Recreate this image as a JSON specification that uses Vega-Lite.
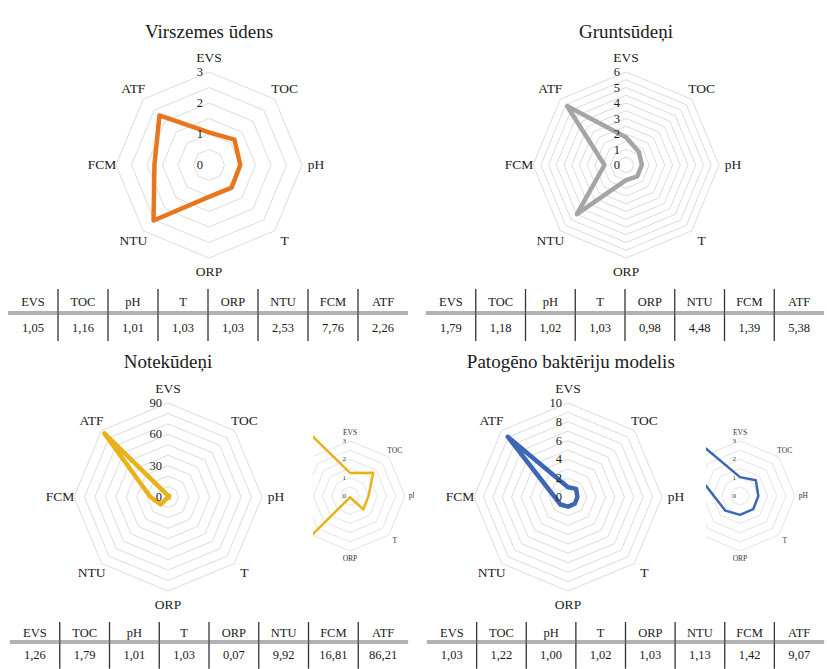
{
"$schema":"https://vega.github.io/schema/vega-lite/v6.json",
"padding":0,
"autosize":{"type":"pad"},
"background":"white",
"spacing":0,
"bounds":"full",
"resolve":{"scale":{"size":"independent"}},
"datasets":{
"vir":[{"axis":"EVS","value":1.05},{"axis":"TOC","value":1.16},{"axis":"pH","value":1.01},{"axis":"T","value":1.03},{"axis":"ORP","value":1.03},{"axis":"NTU","value":2.53},{"axis":"FCM","value":7.76},{"axis":"ATF","value":2.26}],
"vir_plot":[{"axis":"EVS","value":1.05},{"axis":"TOC","value":1.16},{"axis":"pH","value":1.01},{"axis":"T","value":1.03},{"axis":"ORP","value":1.03},{"axis":"NTU","value":2.53},{"axis":"FCM","value":1.76},{"axis":"ATF","value":2.26}],
"gru":[{"axis":"EVS","value":1.79},{"axis":"TOC","value":1.18},{"axis":"pH","value":1.02},{"axis":"T","value":1.03},{"axis":"ORP","value":0.98},{"axis":"NTU","value":4.48},{"axis":"FCM","value":1.39},{"axis":"ATF","value":5.38}],
"note":[{"axis":"EVS","value":1.26},{"axis":"TOC","value":1.79},{"axis":"pH","value":1.01},{"axis":"T","value":1.03},{"axis":"ORP","value":0.07},{"axis":"NTU","value":9.92},{"axis":"FCM","value":16.81},{"axis":"ATF","value":86.21}],
"pat":[{"axis":"EVS","value":1.03},{"axis":"TOC","value":1.22},{"axis":"pH","value":1.00},{"axis":"T","value":1.02},{"axis":"ORP","value":1.03},{"axis":"NTU","value":1.13},{"axis":"FCM","value":1.42},{"axis":"ATF","value":9.07}],
"rings3":[{"level":0.5},{"level":1},{"level":1.5},{"level":2},{"level":2.5},{"level":3}],
"rings6":[{"level":0.5},{"level":1},{"level":1.5},{"level":2},{"level":2.5},{"level":3},{"level":3.5},{"level":4},{"level":4.5},{"level":5},{"level":5.5},{"level":6}],
"rings90":[{"level":10},{"level":20},{"level":30},{"level":40},{"level":50},{"level":60},{"level":70},{"level":80},{"level":90}],
"rings10":[{"level":1},{"level":2},{"level":3},{"level":4},{"level":5},{"level":6},{"level":7},{"level":8},{"level":9},{"level":10}],
"ticks3":[{"tick":0},{"tick":1},{"tick":2},{"tick":3}],
"ticks6":[{"tick":0},{"tick":1},{"tick":2},{"tick":3},{"tick":4},{"tick":5},{"tick":6}],
"ticks90":[{"tick":0},{"tick":30},{"tick":60},{"tick":90}],
"ticks10":[{"tick":0},{"tick":2},{"tick":4},{"tick":6},{"tick":8},{"tick":10}]
},
"vconcat":[
{"hconcat":[
{"width":414,"height":284,"layer":[
{"data":{"name":"rings3"},"mark":{"type":"point","shape":"M0,-1L0.7071,-0.7071L1,0L0.7071,0.7071L0,1L-0.7071,0.7071L-1,0L-0.7071,-0.7071Z","filled":false,"stroke":"#dcdcdc","strokeWidth":1,"opacity":1},
"encoding":{"x":{"datum":0,"type":"quantitative","scale":{"domain":[-6.7419,6.6129],"nice":false,"zero":false}},"y":{"datum":0,"type":"quantitative","scale":{"domain":[-3.8387,5.3226],"nice":false,"zero":false}},"size":{"field":"level","type":"quantitative","scale":{"type":"pow","exponent":2,"domain":[0,3],"range":[0,34596]},"legend":null}}},
{"data":{"name":"vir_plot"},"transform":[{"window":[{"op":"row_number","as":"idx"}]},{"calculate":"PI/2-(datum.idx-1)*PI/4","as":"ang"},{"calculate":"datum.value*cos(datum.ang)","as":"px"},{"calculate":"datum.value*sin(datum.ang)","as":"py"}],
"mark":{"type":"line","interpolate":"linear-closed","color":"#E8761F","strokeWidth":4.5,"strokeJoin":"round"},
"encoding":{"x":{"field":"px","type":"quantitative","scale":{"domain":[-6.7419,6.6129],"nice":false,"zero":false}},"y":{"field":"py","type":"quantitative","scale":{"domain":[-3.8387,5.3226],"nice":false,"zero":false}},"order":{"field":"idx","type":"quantitative"}}},
{"data":{"name":"vir"},"transform":[{"window":[{"op":"row_number","as":"idx"}]},{"calculate":"PI/2-(datum.idx-1)*PI/4","as":"ang"},{"calculate":"3.45*cos(datum.ang)","as":"lx"},{"calculate":"3.45*sin(datum.ang)","as":"ly"}],
"mark":{"type":"text","font":"Liberation Serif","color":"#1a1a1a","fontSize":13.5,"baseline":"middle"},
"encoding":{"x":{"field":"lx","type":"quantitative","scale":{"domain":[-6.7419,6.6129],"nice":false,"zero":false}},"y":{"field":"ly","type":"quantitative","scale":{"domain":[-3.8387,5.3226],"nice":false,"zero":false}},"text":{"field":"axis"}}},
{"data":{"name":"ticks3"},"mark":{"type":"text","font":"Liberation Serif","color":"#1a1a1a","fontSize":12.5,"align":"right","baseline":"middle","dx":-6},
"encoding":{"x":{"datum":0,"type":"quantitative","scale":{"domain":[-6.7419,6.6129],"nice":false,"zero":false}},"y":{"field":"tick","type":"quantitative","scale":{"domain":[-3.8387,5.3226],"nice":false,"zero":false}},"text":{"field":"tick","type":"quantitative"}}},
{"data":{"values":[{"t":"Virszemes ūdens"}]},"mark":{"type":"text","font":"Liberation Serif","color":"#1a1a1a","fontSize":19,"baseline":"middle"},
"encoding":{"x":{"datum":0,"type":"quantitative","scale":{"domain":[-6.7419,6.6129],"nice":false,"zero":false}},"y":{"datum":4.29,"type":"quantitative","scale":{"domain":[-3.8387,5.3226],"nice":false,"zero":false}},"text":{"field":"t"}}}
]},
{"width":413,"height":284,"layer":[
{"data":{"name":"rings6"},"mark":{"type":"point","shape":"M0,-1L0.7071,-0.7071L1,0L0.7071,0.7071L0,1L-0.7071,0.7071L-1,0L-0.7071,-0.7071Z","filled":false,"stroke":"#dcdcdc","strokeWidth":1,"opacity":1},
"encoding":{"x":{"datum":0,"type":"quantitative","scale":{"domain":[-13.6774,12.9677],"nice":false,"zero":false}},"y":{"datum":0,"type":"quantitative","scale":{"domain":[-7.6774,10.6452],"nice":false,"zero":false}},"size":{"field":"level","type":"quantitative","scale":{"type":"pow","exponent":2,"domain":[0,6],"range":[0,34596]},"legend":null}}},
{"data":{"name":"gru"},"transform":[{"window":[{"op":"row_number","as":"idx"}]},{"calculate":"PI/2-(datum.idx-1)*PI/4","as":"ang"},{"calculate":"datum.value*cos(datum.ang)","as":"px"},{"calculate":"datum.value*sin(datum.ang)","as":"py"}],
"mark":{"type":"line","interpolate":"linear-closed","color":"#A5A5A5","strokeWidth":4.5,"strokeJoin":"round"},
"encoding":{"x":{"field":"px","type":"quantitative","scale":{"domain":[-13.6774,12.9677],"nice":false,"zero":false}},"y":{"field":"py","type":"quantitative","scale":{"domain":[-7.6774,10.6452],"nice":false,"zero":false}},"order":{"field":"idx","type":"quantitative"}}},
{"data":{"name":"gru"},"transform":[{"window":[{"op":"row_number","as":"idx"}]},{"calculate":"PI/2-(datum.idx-1)*PI/4","as":"ang"},{"calculate":"6.9*cos(datum.ang)","as":"lx"},{"calculate":"6.9*sin(datum.ang)","as":"ly"}],
"mark":{"type":"text","font":"Liberation Serif","color":"#1a1a1a","fontSize":13.5,"baseline":"middle"},
"encoding":{"x":{"field":"lx","type":"quantitative","scale":{"domain":[-13.6774,12.9677],"nice":false,"zero":false}},"y":{"field":"ly","type":"quantitative","scale":{"domain":[-7.6774,10.6452],"nice":false,"zero":false}},"text":{"field":"axis"}}},
{"data":{"name":"ticks6"},"mark":{"type":"text","font":"Liberation Serif","color":"#1a1a1a","fontSize":12.5,"align":"right","baseline":"middle","dx":-6},
"encoding":{"x":{"datum":0,"type":"quantitative","scale":{"domain":[-13.6774,12.9677],"nice":false,"zero":false}},"y":{"field":"tick","type":"quantitative","scale":{"domain":[-7.6774,10.6452],"nice":false,"zero":false}},"text":{"field":"tick","type":"quantitative"}}},
{"data":{"values":[{"t":"Gruntsūdeņi"}]},"mark":{"type":"text","font":"Liberation Serif","color":"#1a1a1a","fontSize":19,"baseline":"middle"},
"encoding":{"x":{"datum":0,"type":"quantitative","scale":{"domain":[-13.6774,12.9677],"nice":false,"zero":false}},"y":{"datum":8.58,"type":"quantitative","scale":{"domain":[-7.6774,10.6452],"nice":false,"zero":false}},"text":{"field":"t"}}}
]}
],"spacing":0,"bounds":"flush","resolve":{"scale":{"size":"independent"}}},
{"hconcat":[
{"width":414,"height":60,"data":{"name":"vir"},"layer":[
{"mark":{"type":"text","font":"Liberation Serif","color":"#1a1a1a","fontSize":12.5,"baseline":"middle"},"encoding":{"x":{"field":"axis","type":"nominal","scale":{"domain":["EVS","TOC","pH","T","ORP","NTU","FCM","ATF"],"paddingInner":0,"paddingOuter":0.14,"align":0.5714}},"y":{"datum":1,"type":"quantitative","scale":{"domain":[-0.615,1.692],"nice":false,"zero":false}},"text":{"field":"axis"}}},
{"mark":{"type":"text","font":"Liberation Serif","color":"#1a1a1a","fontSize":12.5,"baseline":"middle"},"encoding":{"x":{"field":"axis","type":"nominal","scale":{"domain":["EVS","TOC","pH","T","ORP","NTU","FCM","ATF"],"paddingInner":0,"paddingOuter":0.14,"align":0.5714}},"y":{"datum":0,"type":"quantitative","scale":{"domain":[-0.615,1.692],"nice":false,"zero":false}},"text":{"field":"value","type":"quantitative","format":".2f"}}},
{"transform":[{"filter":"datum.axis !== 'EVS'"}],"mark":{"type":"rule","color":"#333333","strokeWidth":1.3},"encoding":{"x":{"field":"axis","type":"nominal","bandPosition":0,"scale":{"domain":["EVS","TOC","pH","T","ORP","NTU","FCM","ATF"],"paddingInner":0,"paddingOuter":0.14,"align":0.5714}},"y":{"datum":-0.5,"type":"quantitative","scale":{"domain":[-0.615,1.692],"nice":false,"zero":false}},"y2":{"datum":1.5}}},
{"mark":{"type":"tick","orient":"horizontal","size":50,"thickness":1,"color":"#666666","opacity":1},"encoding":{"x":{"field":"axis","type":"nominal","scale":{"domain":["EVS","TOC","pH","T","ORP","NTU","FCM","ATF"],"paddingInner":0,"paddingOuter":0.14,"align":0.5714}},"y":{"datum":0.54,"type":"quantitative","scale":{"domain":[-0.615,1.692],"nice":false,"zero":false}}}},
{"mark":{"type":"tick","orient":"horizontal","size":50,"thickness":1,"color":"#666666","opacity":1},"encoding":{"x":{"field":"axis","type":"nominal","scale":{"domain":["EVS","TOC","pH","T","ORP","NTU","FCM","ATF"],"paddingInner":0,"paddingOuter":0.14,"align":0.5714}},"y":{"datum":0.62,"type":"quantitative","scale":{"domain":[-0.615,1.692],"nice":false,"zero":false}}}}
]},
{"width":413,"height":60,"data":{"name":"gru"},"layer":[
{"mark":{"type":"text","font":"Liberation Serif","color":"#1a1a1a","fontSize":12.5,"baseline":"middle"},"encoding":{"x":{"field":"axis","type":"nominal","scale":{"domain":["EVS","TOC","pH","T","ORP","NTU","FCM","ATF"],"paddingInner":0,"paddingOuter":0.1508,"align":0.8}},"y":{"datum":1,"type":"quantitative","scale":{"domain":[-0.615,1.692],"nice":false,"zero":false}},"text":{"field":"axis"}}},
{"mark":{"type":"text","font":"Liberation Serif","color":"#1a1a1a","fontSize":12.5,"baseline":"middle"},"encoding":{"x":{"field":"axis","type":"nominal","scale":{"domain":["EVS","TOC","pH","T","ORP","NTU","FCM","ATF"],"paddingInner":0,"paddingOuter":0.1508,"align":0.8}},"y":{"datum":0,"type":"quantitative","scale":{"domain":[-0.615,1.692],"nice":false,"zero":false}},"text":{"field":"value","type":"quantitative","format":".2f"}}},
{"transform":[{"filter":"datum.axis !== 'EVS'"}],"mark":{"type":"rule","color":"#333333","strokeWidth":1.3},"encoding":{"x":{"field":"axis","type":"nominal","bandPosition":0,"scale":{"domain":["EVS","TOC","pH","T","ORP","NTU","FCM","ATF"],"paddingInner":0,"paddingOuter":0.1508,"align":0.8}},"y":{"datum":-0.5,"type":"quantitative","scale":{"domain":[-0.615,1.692],"nice":false,"zero":false}},"y2":{"datum":1.5}}},
{"mark":{"type":"tick","orient":"horizontal","size":50,"thickness":1,"color":"#666666","opacity":1},"encoding":{"x":{"field":"axis","type":"nominal","scale":{"domain":["EVS","TOC","pH","T","ORP","NTU","FCM","ATF"],"paddingInner":0,"paddingOuter":0.1508,"align":0.8}},"y":{"datum":0.54,"type":"quantitative","scale":{"domain":[-0.615,1.692],"nice":false,"zero":false}}}},
{"mark":{"type":"tick","orient":"horizontal","size":50,"thickness":1,"color":"#666666","opacity":1},"encoding":{"x":{"field":"axis","type":"nominal","scale":{"domain":["EVS","TOC","pH","T","ORP","NTU","FCM","ATF"],"paddingInner":0,"paddingOuter":0.1508,"align":0.8}},"y":{"datum":0.62,"type":"quantitative","scale":{"domain":[-0.615,1.692],"nice":false,"zero":false}}}}
]}
],"spacing":0,"bounds":"flush"},
{"hconcat":[
{"width":313,"height":270,"layer":[
{"data":{"name":"rings90"},"mark":{"type":"point","shape":"M0,-1L0.7071,-0.7071L1,0L0.7071,0.7071L0,1L-0.7071,0.7071L-1,0L-0.7071,-0.7071Z","filled":false,"stroke":"#dcdcdc","strokeWidth":1,"opacity":1},
"encoding":{"x":{"datum":0,"type":"quantitative","scale":{"domain":[-160.851,138.830],"nice":false,"zero":false}},"y":{"datum":0,"type":"quantitative","scale":{"domain":[-112.02,146.489],"nice":false,"zero":false}},"size":{"field":"level","type":"quantitative","scale":{"type":"pow","exponent":2,"domain":[0,90],"range":[0,35344]},"legend":null}}},
{"data":{"name":"note"},"transform":[{"window":[{"op":"row_number","as":"idx"}]},{"calculate":"PI/2-(datum.idx-1)*PI/4","as":"ang"},{"calculate":"datum.value*cos(datum.ang)","as":"px"},{"calculate":"datum.value*sin(datum.ang)","as":"py"}],
"mark":{"type":"line","interpolate":"linear-closed","color":"#E9B11A","strokeWidth":4.5,"strokeJoin":"round"},
"encoding":{"x":{"field":"px","type":"quantitative","scale":{"domain":[-160.851,138.830],"nice":false,"zero":false}},"y":{"field":"py","type":"quantitative","scale":{"domain":[-112.02,146.489],"nice":false,"zero":false}},"order":{"field":"idx","type":"quantitative"}}},
{"data":{"name":"note"},"transform":[{"window":[{"op":"row_number","as":"idx"}]},{"calculate":"PI/2-(datum.idx-1)*PI/4","as":"ang"},{"calculate":"103.5*cos(datum.ang)","as":"lx"},{"calculate":"103.5*sin(datum.ang)","as":"ly"}],
"mark":{"type":"text","font":"Liberation Serif","color":"#1a1a1a","fontSize":13.5,"baseline":"middle"},
"encoding":{"x":{"field":"lx","type":"quantitative","scale":{"domain":[-160.851,138.830],"nice":false,"zero":false}},"y":{"field":"ly","type":"quantitative","scale":{"domain":[-112.02,146.489],"nice":false,"zero":false}},"text":{"field":"axis"}}},
{"data":{"name":"ticks90"},"mark":{"type":"text","font":"Liberation Serif","color":"#1a1a1a","fontSize":12.5,"align":"right","baseline":"middle","dx":-6},
"encoding":{"x":{"datum":0,"type":"quantitative","scale":{"domain":[-160.851,138.830],"nice":false,"zero":false}},"y":{"field":"tick","type":"quantitative","scale":{"domain":[-112.02,146.489],"nice":false,"zero":false}},"text":{"field":"tick","type":"quantitative"}}},
{"data":{"values":[{"t":"Notekūdeņi"}]},"mark":{"type":"text","font":"Liberation Serif","color":"#1a1a1a","fontSize":19,"baseline":"middle"},
"encoding":{"x":{"datum":0,"type":"quantitative","scale":{"domain":[-160.851,138.830],"nice":false,"zero":false}},"y":{"datum":129.3,"type":"quantitative","scale":{"domain":[-112.02,146.489],"nice":false,"zero":false}},"text":{"field":"t"}}}
]},
{"width":101,"height":270,"layer":[
{"data":{"name":"rings3"},"mark":{"type":"point","clip":true,"shape":"M0,-1L0.7071,-0.7071L1,0L0.7071,0.7071L0,1L-0.7071,0.7071L-1,0L-0.7071,-0.7071Z","filled":false,"stroke":"#dddddd","strokeWidth":0.8,"opacity":1},
"encoding":{"x":{"datum":0,"type":"quantitative","scale":{"domain":[-2.0182,3.4909],"nice":false,"zero":false}},"y":{"datum":0,"type":"quantitative","scale":{"domain":[-6.4364,8.2909],"nice":false,"zero":false}},"size":{"field":"level","type":"quantitative","scale":{"type":"pow","exponent":2,"domain":[0,3],"range":[0,12100]},"legend":null}}},
{"data":{"name":"note"},"transform":[{"window":[{"op":"row_number","as":"idx"}]},{"calculate":"PI/2-(datum.idx-1)*PI/4","as":"ang"},{"calculate":"datum.value*cos(datum.ang)","as":"px"},{"calculate":"datum.value*sin(datum.ang)","as":"py"}],
"mark":{"type":"line","clip":true,"interpolate":"linear-closed","color":"#E9B11A","strokeWidth":2.5,"strokeJoin":"round"},
"encoding":{"x":{"field":"px","type":"quantitative","scale":{"domain":[-2.0182,3.4909],"nice":false,"zero":false}},"y":{"field":"py","type":"quantitative","scale":{"domain":[-6.4364,8.2909],"nice":false,"zero":false}},"order":{"field":"idx","type":"quantitative"}}},
{"data":{"name":"note"},"transform":[{"window":[{"op":"row_number","as":"idx"}]},{"calculate":"PI/2-(datum.idx-1)*PI/4","as":"ang"},{"calculate":"3.45*cos(datum.ang)","as":"lx"},{"calculate":"3.45*sin(datum.ang)","as":"ly"},{"filter":"datum.idx <= 5"}],
"mark":{"type":"text","clip":true,"font":"Liberation Serif","color":"#333333","fontSize":7.5,"baseline":"middle"},
"encoding":{"x":{"field":"lx","type":"quantitative","scale":{"domain":[-2.0182,3.4909],"nice":false,"zero":false}},"y":{"field":"ly","type":"quantitative","scale":{"domain":[-6.4364,8.2909],"nice":false,"zero":false}},"text":{"field":"axis"}}},
{"data":{"name":"ticks3"},"mark":{"type":"text","clip":true,"font":"Liberation Serif","color":"#333333","fontSize":7,"align":"right","baseline":"middle","dx":-4},
"encoding":{"x":{"datum":0,"type":"quantitative","scale":{"domain":[-2.0182,3.4909],"nice":false,"zero":false}},"y":{"field":"tick","type":"quantitative","scale":{"domain":[-6.4364,8.2909],"nice":false,"zero":false}},"text":{"field":"tick","type":"quantitative"}}}
]},
{"width":292,"height":270,"layer":[
{"data":{"name":"rings10"},"mark":{"type":"point","shape":"M0,-1L0.7071,-0.7071L1,0L0.7071,0.7071L0,1L-0.7071,0.7071L-1,0L-0.7071,-0.7071Z","filled":false,"stroke":"#dcdcdc","strokeWidth":1,"opacity":1},
"encoding":{"x":{"datum":0,"type":"quantitative","scale":{"domain":[-16.383,14.681],"nice":false,"zero":false}},"y":{"datum":0,"type":"quantitative","scale":{"domain":[-12.447,16.277],"nice":false,"zero":false}},"size":{"field":"level","type":"quantitative","scale":{"type":"pow","exponent":2,"domain":[0,10],"range":[0,35344]},"legend":null}}},
{"data":{"name":"pat"},"transform":[{"window":[{"op":"row_number","as":"idx"}]},{"calculate":"PI/2-(datum.idx-1)*PI/4","as":"ang"},{"calculate":"datum.value*cos(datum.ang)","as":"px"},{"calculate":"datum.value*sin(datum.ang)","as":"py"}],
"mark":{"type":"line","interpolate":"linear-closed","color":"#3D66B5","strokeWidth":4.5,"strokeJoin":"round"},
"encoding":{"x":{"field":"px","type":"quantitative","scale":{"domain":[-16.383,14.681],"nice":false,"zero":false}},"y":{"field":"py","type":"quantitative","scale":{"domain":[-12.447,16.277],"nice":false,"zero":false}},"order":{"field":"idx","type":"quantitative"}}},
{"data":{"name":"pat"},"transform":[{"window":[{"op":"row_number","as":"idx"}]},{"calculate":"PI/2-(datum.idx-1)*PI/4","as":"ang"},{"calculate":"11.5*cos(datum.ang)","as":"lx"},{"calculate":"11.5*sin(datum.ang)","as":"ly"}],
"mark":{"type":"text","font":"Liberation Serif","color":"#1a1a1a","fontSize":13.5,"baseline":"middle"},
"encoding":{"x":{"field":"lx","type":"quantitative","scale":{"domain":[-16.383,14.681],"nice":false,"zero":false}},"y":{"field":"ly","type":"quantitative","scale":{"domain":[-12.447,16.277],"nice":false,"zero":false}},"text":{"field":"axis"}}},
{"data":{"name":"ticks10"},"mark":{"type":"text","font":"Liberation Serif","color":"#1a1a1a","fontSize":12.5,"align":"right","baseline":"middle","dx":-6},
"encoding":{"x":{"datum":0,"type":"quantitative","scale":{"domain":[-16.383,14.681],"nice":false,"zero":false}},"y":{"field":"tick","type":"quantitative","scale":{"domain":[-12.447,16.277],"nice":false,"zero":false}},"text":{"field":"tick","type":"quantitative"}}},
{"data":{"values":[{"t":"Patogēno baktēriju modelis"}]},"mark":{"type":"text","font":"Liberation Serif","color":"#1a1a1a","fontSize":19,"baseline":"middle"},
"encoding":{"x":{"datum":0.3,"type":"quantitative","scale":{"domain":[-16.383,14.681],"nice":false,"zero":false}},"y":{"datum":14.36,"type":"quantitative","scale":{"domain":[-12.447,16.277],"nice":false,"zero":false}},"text":{"field":"t"}}}
]},
{"width":121,"height":270,"layer":[
{"data":{"name":"rings3"},"mark":{"type":"point","clip":true,"shape":"M0,-1L0.7071,-0.7071L1,0L0.7071,0.7071L0,1L-0.7071,0.7071L-1,0L-0.7071,-0.7071Z","filled":false,"stroke":"#dddddd","strokeWidth":0.8,"opacity":1},
"encoding":{"x":{"datum":0,"type":"quantitative","scale":{"domain":[-1.8545,4.7455],"nice":false,"zero":false}},"y":{"datum":0,"type":"quantitative","scale":{"domain":[-6.4364,8.2909],"nice":false,"zero":false}},"size":{"field":"level","type":"quantitative","scale":{"type":"pow","exponent":2,"domain":[0,3],"range":[0,12100]},"legend":null}}},
{"data":{"name":"pat"},"transform":[{"window":[{"op":"row_number","as":"idx"}]},{"calculate":"PI/2-(datum.idx-1)*PI/4","as":"ang"},{"calculate":"datum.value*cos(datum.ang)","as":"px"},{"calculate":"datum.value*sin(datum.ang)","as":"py"}],
"mark":{"type":"line","clip":true,"interpolate":"linear-closed","color":"#3D66B5","strokeWidth":2.5,"strokeJoin":"round"},
"encoding":{"x":{"field":"px","type":"quantitative","scale":{"domain":[-1.8545,4.7455],"nice":false,"zero":false}},"y":{"field":"py","type":"quantitative","scale":{"domain":[-6.4364,8.2909],"nice":false,"zero":false}},"order":{"field":"idx","type":"quantitative"}}},
{"data":{"name":"pat"},"transform":[{"window":[{"op":"row_number","as":"idx"}]},{"calculate":"PI/2-(datum.idx-1)*PI/4","as":"ang"},{"calculate":"3.45*cos(datum.ang)","as":"lx"},{"calculate":"3.45*sin(datum.ang)","as":"ly"},{"filter":"datum.idx <= 5"}],
"mark":{"type":"text","clip":true,"font":"Liberation Serif","color":"#333333","fontSize":7.5,"baseline":"middle"},
"encoding":{"x":{"field":"lx","type":"quantitative","scale":{"domain":[-1.8545,4.7455],"nice":false,"zero":false}},"y":{"field":"ly","type":"quantitative","scale":{"domain":[-6.4364,8.2909],"nice":false,"zero":false}},"text":{"field":"axis"}}},
{"data":{"name":"ticks3"},"mark":{"type":"text","clip":true,"font":"Liberation Serif","color":"#333333","fontSize":7,"align":"right","baseline":"middle","dx":-4},
"encoding":{"x":{"datum":0,"type":"quantitative","scale":{"domain":[-1.8545,4.7455],"nice":false,"zero":false}},"y":{"field":"tick","type":"quantitative","scale":{"domain":[-6.4364,8.2909],"nice":false,"zero":false}},"text":{"field":"tick","type":"quantitative"}}}
]}
],"spacing":0,"bounds":"flush","resolve":{"scale":{"size":"independent"}}},
{"hconcat":[
{"width":414,"height":55,"data":{"name":"note"},"layer":[
{"mark":{"type":"text","font":"Liberation Serif","color":"#1a1a1a","fontSize":12.5,"baseline":"middle"},"encoding":{"x":{"field":"axis","type":"nominal","scale":{"domain":["EVS","TOC","pH","T","ORP","NTU","FCM","ATF"],"paddingInner":0,"paddingOuter":0.1608,"align":0.625}},"y":{"datum":1,"type":"quantitative","scale":{"domain":[-0.636,1.8636],"nice":false,"zero":false}},"text":{"field":"axis"}}},
{"mark":{"type":"text","font":"Liberation Serif","color":"#1a1a1a","fontSize":12.5,"baseline":"middle"},"encoding":{"x":{"field":"axis","type":"nominal","scale":{"domain":["EVS","TOC","pH","T","ORP","NTU","FCM","ATF"],"paddingInner":0,"paddingOuter":0.1608,"align":0.625}},"y":{"datum":0,"type":"quantitative","scale":{"domain":[-0.636,1.8636],"nice":false,"zero":false}},"text":{"field":"value","type":"quantitative","format":".2f"}}},
{"transform":[{"filter":"datum.axis !== 'EVS'"}],"mark":{"type":"rule","color":"#333333","strokeWidth":1.3},"encoding":{"x":{"field":"axis","type":"nominal","bandPosition":0,"scale":{"domain":["EVS","TOC","pH","T","ORP","NTU","FCM","ATF"],"paddingInner":0,"paddingOuter":0.1608,"align":0.625}},"y":{"datum":-0.62,"type":"quantitative","scale":{"domain":[-0.636,1.8636],"nice":false,"zero":false}},"y2":{"datum":1.5}}},
{"mark":{"type":"tick","orient":"horizontal","size":50,"thickness":1,"color":"#666666","opacity":1},"encoding":{"x":{"field":"axis","type":"nominal","scale":{"domain":["EVS","TOC","pH","T","ORP","NTU","FCM","ATF"],"paddingInner":0,"paddingOuter":0.1608,"align":0.625}},"y":{"datum":0.54,"type":"quantitative","scale":{"domain":[-0.636,1.8636],"nice":false,"zero":false}}}},
{"mark":{"type":"tick","orient":"horizontal","size":50,"thickness":1,"color":"#666666","opacity":1},"encoding":{"x":{"field":"axis","type":"nominal","scale":{"domain":["EVS","TOC","pH","T","ORP","NTU","FCM","ATF"],"paddingInner":0,"paddingOuter":0.1608,"align":0.625}},"y":{"datum":0.64,"type":"quantitative","scale":{"domain":[-0.636,1.8636],"nice":false,"zero":false}}}}
]},
{"width":413,"height":55,"data":{"name":"pat"},"layer":[
{"mark":{"type":"text","font":"Liberation Serif","color":"#1a1a1a","fontSize":12.5,"baseline":"middle"},"encoding":{"x":{"field":"axis","type":"nominal","scale":{"domain":["EVS","TOC","pH","T","ORP","NTU","FCM","ATF"],"paddingInner":0,"paddingOuter":0.1612,"align":0.8125}},"y":{"datum":1,"type":"quantitative","scale":{"domain":[-0.636,1.8636],"nice":false,"zero":false}},"text":{"field":"axis"}}},
{"mark":{"type":"text","font":"Liberation Serif","color":"#1a1a1a","fontSize":12.5,"baseline":"middle"},"encoding":{"x":{"field":"axis","type":"nominal","scale":{"domain":["EVS","TOC","pH","T","ORP","NTU","FCM","ATF"],"paddingInner":0,"paddingOuter":0.1612,"align":0.8125}},"y":{"datum":0,"type":"quantitative","scale":{"domain":[-0.636,1.8636],"nice":false,"zero":false}},"text":{"field":"value","type":"quantitative","format":".2f"}}},
{"transform":[{"filter":"datum.axis !== 'EVS'"}],"mark":{"type":"rule","color":"#333333","strokeWidth":1.3},"encoding":{"x":{"field":"axis","type":"nominal","bandPosition":0,"scale":{"domain":["EVS","TOC","pH","T","ORP","NTU","FCM","ATF"],"paddingInner":0,"paddingOuter":0.1612,"align":0.8125}},"y":{"datum":-0.62,"type":"quantitative","scale":{"domain":[-0.636,1.8636],"nice":false,"zero":false}},"y2":{"datum":1.5}}},
{"mark":{"type":"tick","orient":"horizontal","size":50,"thickness":1,"color":"#666666","opacity":1},"encoding":{"x":{"field":"axis","type":"nominal","scale":{"domain":["EVS","TOC","pH","T","ORP","NTU","FCM","ATF"],"paddingInner":0,"paddingOuter":0.1612,"align":0.8125}},"y":{"datum":0.54,"type":"quantitative","scale":{"domain":[-0.636,1.8636],"nice":false,"zero":false}}}},
{"mark":{"type":"tick","orient":"horizontal","size":50,"thickness":1,"color":"#666666","opacity":1},"encoding":{"x":{"field":"axis","type":"nominal","scale":{"domain":["EVS","TOC","pH","T","ORP","NTU","FCM","ATF"],"paddingInner":0,"paddingOuter":0.1612,"align":0.8125}},"y":{"datum":0.64,"type":"quantitative","scale":{"domain":[-0.636,1.8636],"nice":false,"zero":false}}}}
]}
],"spacing":0,"bounds":"flush"}
],
"config":{
"font":"Liberation Serif",
"view":{"stroke":null},
"axis":{"disable":true},
"legend":{"disable":true},
"locale":{"number":{"decimal":",","thousands":" ","grouping":[3],"currency":["","€"]}}
}
}
